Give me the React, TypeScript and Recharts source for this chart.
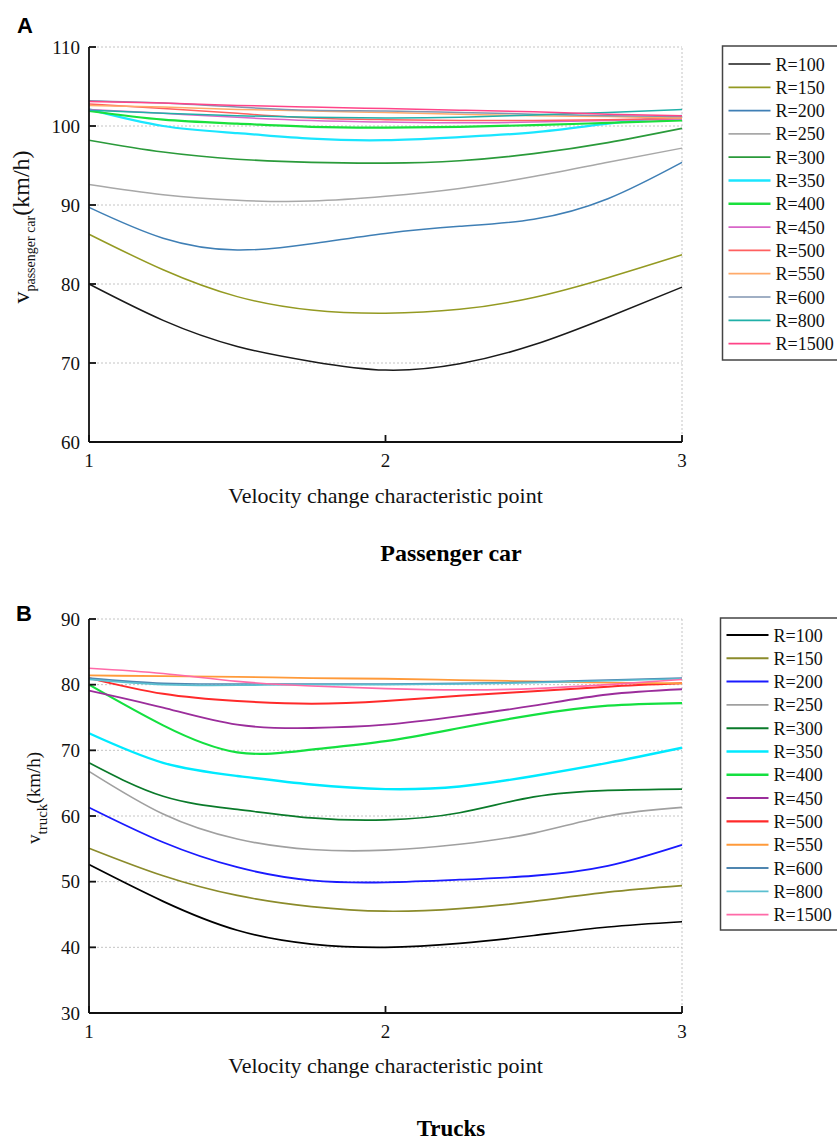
import React from "react";
import {
  LineChart,
  Line,
  XAxis,
  YAxis,
  CartesianGrid,
  ReferenceLine,
} from "recharts";

// velocity change characteristic points (read at quarter steps)
const xPoints = [1, 1.25, 1.5, 1.75, 2, 2.25, 2.5, 2.75, 3];
const radii = [100, 150, 200, 250, 300, 350, 400, 450, 500, 550, 600, 800, 1500];
const carTicks = [60, 70, 80, 90, 100, 110];
const truckTicks = [30, 40, 50, 60, 70, 80, 90];
const xTicks = [1, 2, 3];

// passenger car speeds (km/h)
const car100 = [80.0, 75.4, 72.1, 70.2, 69.1, 69.9, 72.3, 75.8, 79.6];
const car150 = [86.3, 81.8, 78.4, 76.7, 76.3, 76.8, 78.3, 80.8, 83.7];
const car200 = [89.7, 85.8, 84.3, 85.1, 86.4, 87.3, 88.2, 90.8, 95.4];
const car250 = [92.6, 91.3, 90.6, 90.5, 91.1, 92.1, 93.6, 95.4, 97.2];
const car300 = [98.2, 96.7, 95.8, 95.4, 95.3, 95.6, 96.5, 97.9, 99.7];
const car350 = [102.1, 100.0, 99.1, 98.4, 98.2, 98.6, 99.2, 100.3, 101.3];
const car400 = [101.9, 100.8, 100.3, 99.9, 99.8, 99.9, 100.1, 100.4, 100.7];
const car450 = [102.1, 101.6, 101.1, 100.7, 100.5, 100.4, 100.5, 100.7, 100.9];
const car500 = [102.8, 102.2, 101.6, 101.0, 100.8, 100.7, 100.7, 100.8, 101.0];
const car550 = [102.6, 102.4, 102.1, 101.9, 101.7, 101.5, 101.3, 101.2, 101.0];
const car600 = [103.2, 102.9, 102.4, 102.0, 101.9, 101.7, 101.5, 101.3, 101.2];
const car800 = [102.0, 101.6, 101.3, 101.1, 101.0, 101.1, 101.4, 101.7, 102.1];
const car1500 = [103.1, 102.9, 102.6, 102.4, 102.2, 102.0, 101.8, 101.5, 101.3];

// truck speeds (km/h)
const truck100 = [52.6, 47.0, 42.6, 40.5, 40.0, 40.6, 41.8, 43.1, 43.9];
const truck150 = [55.1, 50.9, 47.9, 46.2, 45.5, 45.9, 47.0, 48.4, 49.4];
const truck200 = [61.3, 56.0, 52.2, 50.2, 49.9, 50.3, 50.9, 52.4, 55.6];
const truck250 = [66.8, 60.3, 56.5, 54.9, 54.8, 55.7, 57.4, 60.0, 61.3];
const truck300 = [68.1, 63.0, 61.0, 59.7, 59.4, 60.5, 62.9, 63.9, 64.1];
const truck350 = [72.6, 68.1, 66.1, 64.8, 64.1, 64.5, 66.1, 68.1, 70.4];
const truck400 = [80.0, 73.8, 69.7, 70.1, 71.4, 73.4, 75.4, 76.8, 77.2];
const truck450 = [79.1, 76.5, 73.9, 73.4, 73.9, 75.2, 76.8, 78.5, 79.3];
const truck500 = [81.0, 78.6, 77.5, 77.1, 77.5, 78.3, 79.0, 79.7, 80.2];
const truck550 = [81.4, 81.3, 81.2, 81.0, 80.9, 80.7, 80.5, 80.3, 80.2];
const truck600 = [81.0, 80.2, 80.1, 80.1, 80.1, 80.2, 80.4, 80.7, 81.0];
const truck800 = [80.8, 80.0, 79.9, 80.0, 80.0, 80.1, 80.3, 80.6, 80.9];
const truck1500 = [82.5, 81.7, 80.5, 79.8, 79.4, 79.2, 79.4, 80.0, 80.8];

const carValues = [car100, car150, car200, car250, car300, car350, car400, car450, car500, car550, car600, car800, car1500];
const truckValues = [truck100, truck150, truck200, truck250, truck300, truck350, truck400, truck450, truck500, truck550, truck600, truck800, truck1500];

const carColors = ["#1a1a1a", "#949a22", "#3f7fb5", "#a8a8a8", "#2a9a3a", "#1ae6ff", "#19e03c", "#d866c8", "#ff6060", "#ffaa6a", "#8095b0", "#20b0a8", "#ff4488"];
const truckColors = ["#000000", "#8b8b2b", "#1a1aff", "#a0a0a0", "#0a7a2a", "#00eaff", "#14e040", "#9b2d9b", "#ff2a2a", "#ff9a3a", "#4f86b0", "#5bbfd0", "#ff6aa8"];
const carWidths = [1.5, 1.5, 1.5, 1.5, 1.6, 2.2, 2.2, 1.5, 1.5, 1.5, 1.5, 1.5, 1.5];
const truckWidths = [1.7, 1.7, 1.8, 1.7, 1.7, 2.4, 2.2, 1.8, 2.0, 1.8, 1.6, 1.6, 1.6];

const serif = "'Liberation Serif', 'Times New Roman', serif";
const sans = "'Liberation Sans', Arial, sans-serif";

const buildRows = (values: number[][]) =>
  xPoints.map((x, i) => {
    const row: Record<string, number> = { x };
    radii.forEach((r, k) => {
      row["R=" + r] = values[k][i];
    });
    return row;
  });

const carRows = buildRows(carValues);
const truckRows = buildRows(truckValues);

function Panel({ rows, colors, widths, domain, ticks, marginTop, marginBottom }: any) {
  const axisStroke = { stroke: "#111", strokeWidth: 1.8 };
  return (
    <LineChart width={837} height={520} data={rows} margin={{ top: marginTop, right: 155, bottom: marginBottom, left: 0 }}>
      <CartesianGrid vertical={false} stroke="#c4c4c4" strokeDasharray="2 2" />
      <ReferenceLine x={3} stroke="#c4c4c4" strokeDasharray="2 2" />
      <XAxis
        dataKey="x"
        type="number"
        domain={[1, 3]}
        ticks={xTicks}
        height={70}
        tickSize={-7}
        tickMargin={19}
        axisLine={axisStroke}
        tickLine={axisStroke}
        tick={{ fill: "#111", fontSize: 19, fontFamily: serif }}
      />
      <YAxis
        type="number"
        domain={domain}
        ticks={ticks}
        width={89}
        tickSize={-7}
        tickMargin={16}
        axisLine={axisStroke}
        tickLine={axisStroke}
        tick={{ fill: "#111", fontSize: 19, fontFamily: serif }}
      />
      {radii.map((r, k) => (
        <Line
          key={r}
          type="natural"
          dataKey={"R=" + r}
          stroke={colors[k]}
          strokeWidth={widths[k]}
          dot={false}
          activeDot={false}
          isAnimationActive={false}
        />
      ))}
    </LineChart>
  );
}

function LegendBox({ x, y, height, colors, widths, firstRow }: any) {
  return (
    <g>
      <rect x={x} y={y} width={200} height={height} fill="#fff" stroke="#444" strokeWidth={1.5} />
      {radii.map((r, k) => {
        const cy = y + firstRow + k * 23.3;
        return (
          <g key={r}>
            <line x1={x + 6} x2={x + 48} y1={cy} y2={cy} stroke={colors[k]} strokeWidth={widths[k] + 0.2} />
            <text x={x + 53} y={cy + 6.5} fontSize={18} fontFamily={serif} fill="#111">
              {"R=" + r}
            </text>
          </g>
        );
      })}
    </g>
  );
}

export default function App() {
  return (
    <div style={{ position: "absolute", left: 0, top: 0, width: 837, height: 1142, overflow: "hidden", background: "#fff" }}>
      <div style={{ position: "absolute", left: 0, top: 0 }}>
        <Panel rows={carRows} colors={carColors} widths={carWidths} domain={[60, 110]} ticks={carTicks} marginTop={47} marginBottom={8} />
      </div>
      <div style={{ position: "absolute", left: 0, top: 580 }}>
        <Panel rows={truckRows} colors={truckColors} widths={truckWidths} domain={[30, 90]} ticks={truckTicks} marginTop={39} marginBottom={17} />
      </div>
      <svg width={837} height={1142} style={{ position: "absolute", left: 0, top: 0, pointerEvents: "none" }}>
        <text x={17} y={33} fontSize={22} fontWeight="bold" fontFamily={sans} fill="#000">A</text>
        <text x={16} y={621} fontSize={22} fontWeight="bold" fontFamily={sans} fill="#000">B</text>

        <text transform="translate(29,227) rotate(-90)" textAnchor="middle" fontFamily={serif} fill="#111">
          <tspan fontSize={24}>v</tspan>
          <tspan fontSize={14} dy={6}>passenger car</tspan>
          <tspan fontSize={24} dy={-6}>(km/h)</tspan>
        </text>
        <text transform="translate(40,798) rotate(-90)" textAnchor="middle" fontFamily={serif} fill="#111">
          <tspan fontSize={19}>v</tspan>
          <tspan fontSize={15} dy={7}>truck</tspan>
          <tspan fontSize={19} dy={-7}>(km/h)</tspan>
        </text>

        <text x={385.5} y={503} textAnchor="middle" fontSize={22} fontFamily={serif} fill="#111">
          Velocity change characteristic point
        </text>
        <text x={385.5} y={1073} textAnchor="middle" fontSize={22} fontFamily={serif} fill="#111">
          Velocity change characteristic point
        </text>

        <text x={451} y={561} textAnchor="middle" fontSize={24} fontWeight="bold" fontFamily={serif} fill="#000">
          Passenger car
        </text>
        <text x={451} y={1136} textAnchor="middle" fontSize={23} fontWeight="bold" fontFamily={serif} fill="#000">
          Trucks
        </text>

        <LegendBox x={722.5} y={46} height={314} colors={carColors} widths={carWidths} firstRow={18} />
        <LegendBox x={720.5} y={618} height={312} colors={truckColors} widths={truckWidths} firstRow={17} />
      </svg>
    </div>
  );
}
